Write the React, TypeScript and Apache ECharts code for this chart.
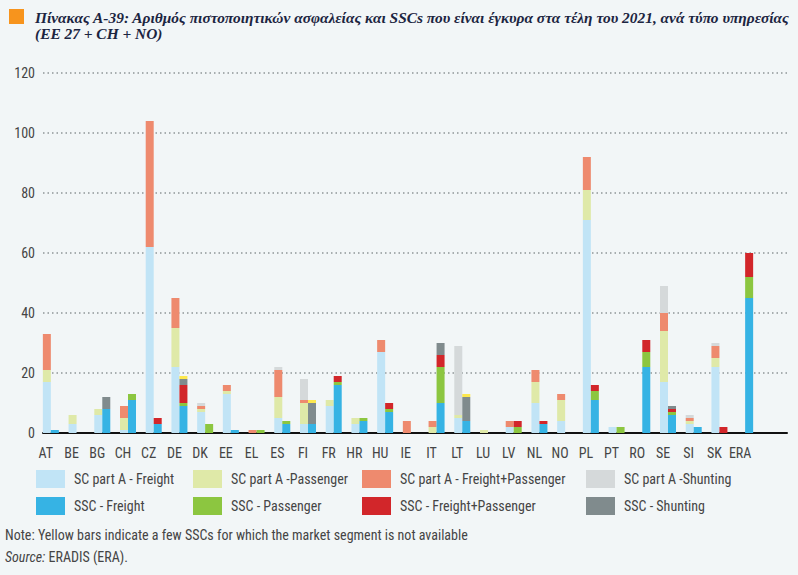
import React, { useEffect, useRef } from 'react';
import * as echarts from 'echarts';

const categories = ['AT', 'BE', 'BG', 'CH', 'CZ', 'DE', 'DK', 'EE', 'EL', 'ES', 'FI', 'FR', 'HR', 'HU', 'IE', 'IT', 'LT', 'LU', 'LV', 'NL', 'NO', 'PL', 'PT', 'RO', 'SE', 'SI', 'SK', 'ERA'];

const yTicks = [0, 20, 40, 60, 80, 100, 120];

//                      AT BE BG CH CZ DE DK EE EL ES FI FR HR HU IE IT LT LU LV NL NO PL PT RO SE SI SK ERA
const scAFreight =     [17, 3, 6, 1, 62, 22, 7, 13, 0, 5, 3, 9, 3, 27, 0, 0, 5, 0, 2, 10, 4, 71, 2, 0, 17, 3, 22, 0];
const scAPassenger =   [4, 3, 2, 4, 0, 13, 1, 1, 0, 7, 7, 2, 2, 0, 0, 2, 1, 1, 0, 7, 7, 10, 0, 0, 17, 1, 3, 0];
const scAFreightPass = [12, 0, 0, 4, 42, 10, 1, 2, 1, 9, 1, 0, 0, 4, 4, 2, 0, 0, 2, 4, 2, 11, 0, 0, 6, 1, 4, 0];
const scAShunting =    [0, 0, 0, 0, 0, 0, 1, 0, 0, 1, 7, 0, 0, 0, 0, 0, 23, 0, 0, 0, 0, 0, 0, 0, 9, 1, 1, 0];

const sscFreight =     [1, 0, 8, 11, 3, 9, 0, 1, 0, 3, 3, 16, 4, 7, 0, 10, 4, 0, 0, 3, 0, 11, 0, 22, 6, 2, 0, 45];
const sscPassenger =   [0, 0, 0, 2, 0, 1, 3, 0, 1, 1, 0, 1, 1, 1, 0, 12, 0, 0, 2, 0, 0, 3, 2, 5, 1, 0, 0, 7];
const sscFreightPass = [0, 0, 0, 0, 2, 6, 0, 0, 0, 0, 0, 2, 0, 2, 0, 4, 0, 0, 2, 1, 0, 2, 0, 4, 1, 0, 2, 8];
const sscShunting =    [0, 0, 4, 0, 0, 2, 0, 0, 0, 0, 7, 0, 0, 0, 0, 4, 8, 0, 0, 0, 0, 0, 0, 0, 1, 0, 0, 0];
const sscUnknown =     [0, 0, 0, 0, 0, 1, 0, 0, 0, 0, 1, 0, 0, 0, 0, 0, 1, 0, 0, 0, 0, 0, 0, 0, 0, 0, 0, 0];

const seriesNames = [
  'SC part A - Freight', 'SC part A -Passenger', 'SC part A - Freight+Passenger', 'SC part A -Shunting',
  'SSC - Freight', 'SSC - Passenger', 'SSC - Freight+Passenger', 'SSC - Shunting', 'Unknown segment',
];

const titleLine1 = 'Πίνακας Α-39: Αριθμός πιστοποιητικών ασφαλείας και SSCs που είναι έγκυρα στα τέλη του 2021, ανά τύπο υπηρεσίας';
const titleLine2 = '(ΕΕ 27 + CH + NO)';
const noteText = 'Note: Yellow bars indicate a few SSCs for which the market segment is not available';

const NARROW = '"Roboto Condensed", "DejaVu Sans Condensed", "Liberation Sans Narrow", Roboto, sans-serif';

export default function App() {
  const ref = useRef<HTMLDivElement>(null);

  useEffect(() => {
    if (!ref.current) return;
    const chart = echarts.init(ref.current, null, { renderer: 'svg' });

    const colors = ['#c1e4f6', '#dfe9a8', '#ee8a6e', '#d5d9da', '#36b3e4', '#8cc640', '#d2262a', '#808b8d', '#fde84e'];
    const dataSets = [scAFreight, scAPassenger, scAFreightPass, scAShunting, sscFreight, sscPassenger, sscFreightPass, sscShunting, sscUnknown];

    const series: any[] = dataSets.map((d, i) => ({
      name: seriesNames[i],
      type: 'bar',
      stack: i < 4 ? 'A' : 'SSC',
      xAxisIndex: 1,
      yAxisIndex: 1,
      barWidth: 8,
      barGap: '0%',
      itemStyle: { color: colors[i] },
      data: d,
    }));

    const legendPos = [
      [36, 470], [193, 470], [362, 470], [586, 470],
      [36, 497], [193, 497], [362, 497], [586, 497],
    ];
    const legends = legendPos.map((p, i) => ({
      data: [seriesNames[i]],
      left: p[0],
      top: p[1],
      padding: 0,
      icon: 'rect',
      itemWidth: 29,
      itemHeight: 18,
      selectedMode: false,
      textStyle: { fontFamily: NARROW, fontSize: 14, color: '#454545', padding: [0, 0, 0, 4] },
    }));

    chart.setOption({
      animation: false,
      backgroundColor: '#f2f6f7',
      textStyle: { fontFamily: NARROW },
      grid: [
        { left: 43, right: 11, top: 73, bottom: 142 },
        { left: 38, right: 40, top: 73, bottom: 142 },
      ],
      xAxis: [
        {
          gridIndex: 0, type: 'value', min: 0, max: 1,
          axisLine: { show: true, lineStyle: { color: '#111', width: 2 } },
          axisTick: { show: false }, axisLabel: { show: false }, splitLine: { show: false },
        },
        {
          gridIndex: 1, type: 'category', data: categories,
          axisLine: { show: false }, axisTick: { show: false },
          axisLabel: { fontFamily: NARROW, fontSize: 14, color: '#454545', margin: 13, padding: [0, 10, 0, 0], interval: 0 },
        },
      ],
      yAxis: [
        {
          gridIndex: 0, type: 'value', min: yTicks[0], max: yTicks[yTicks.length - 1], interval: 20,
          axisLine: { show: false }, axisTick: { show: false },
          axisLabel: { fontFamily: NARROW, fontSize: 14, color: '#454545', margin: 8 },
          splitLine: { show: true, lineStyle: { color: '#8f9698', width: 1.5, type: [1.5, 3] } },
        },
        {
          gridIndex: 1, type: 'value', min: yTicks[0], max: yTicks[yTicks.length - 1], interval: 20,
          show: false, splitLine: { show: false },
        },
      ],
      legend: legends,
      series,
      graphic: [
        { type: 'rect', left: 9, top: 9, shape: { width: 15, height: 15 }, style: { fill: '#f7941d' } },
        {
          type: 'text', left: 35, top: 9,
          style: {
            text: titleLine1 + '\n' + titleLine2,
            font: 'italic bold 15.4px "Liberation Serif", "DejaVu Serif", serif',
            fill: '#1c2541', lineHeight: 16,
          },
        },
        {
          type: 'text', left: 5, top: 528,
          style: { text: noteText, font: '14px ' + NARROW, fill: '#454545' },
        },
        {
          type: 'text', left: 5, top: 550,
          style: {
            text: '{i|Source:} ERADIS (ERA).',
            font: '14px ' + NARROW, fill: '#454545',
            rich: { i: { fontStyle: 'italic', fontFamily: NARROW, fontSize: 14, fill: '#454545' } },
          },
        },
      ],
    });

    return () => chart.dispose();
  }, []);

  return <div ref={ref} style={{ position: 'fixed', left: 0, top: 0, width: 798, height: 575 }} />;
}
